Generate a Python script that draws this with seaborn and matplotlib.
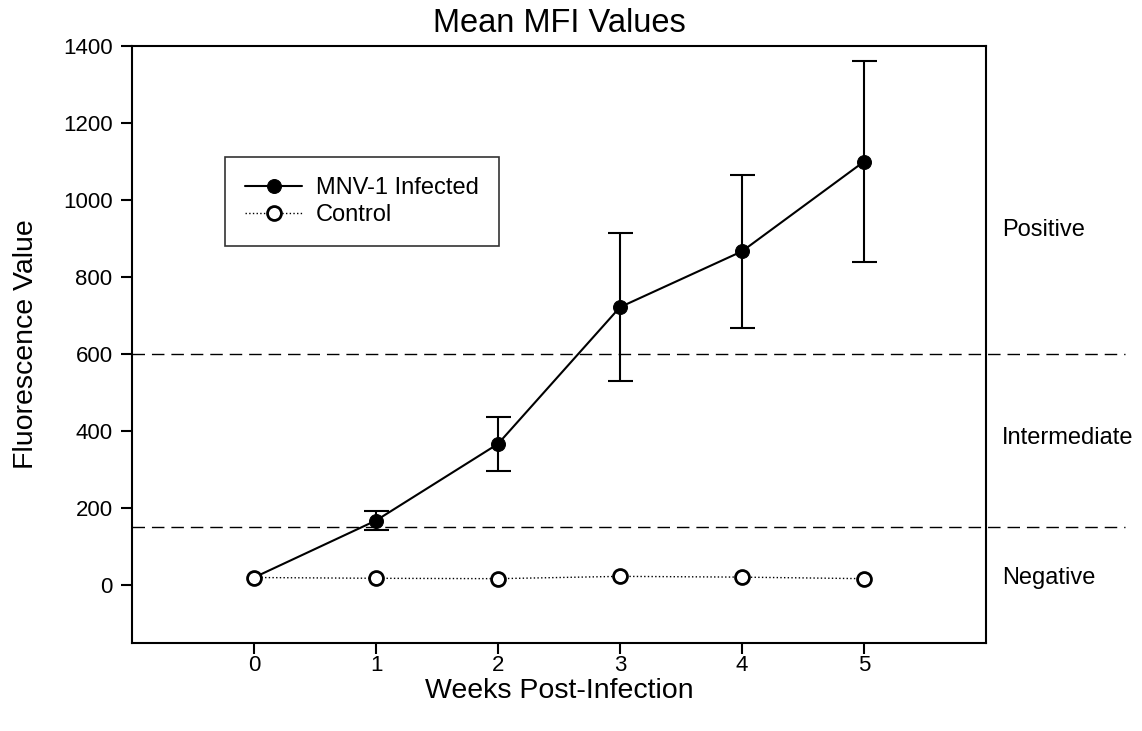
import numpy as np
import pandas as pd
import matplotlib
matplotlib.use('Agg')
import matplotlib.pyplot as plt
import seaborn as sns

# datos
semanas = [0, 1, 2, 3, 4, 5]
infectado = [20, 168, 367, 722, 867, 1100]
infectado_err = [0, 25, 70, 192, 198, 260]
control = [20, 18, 17, 23, 21, 17]
umbrales = [150, 600]
zonas = ['Positive', 'Intermediate', 'Negative']
zonas_y = [922, 382, 18]

sns.set_style("ticks", {'xtick.color': 'black', 'ytick.color': 'black',
                        'axes.edgecolor': 'black', 'text.color': 'black',
                        'axes.labelcolor': 'black'})
plt.rcParams['font.family'] = ['Liberation Sans', 'DejaVu Sans']

df = pd.DataFrame({'Semana': semanas, 'Infectado': infectado, 'Control': control})

fig = plt.figure(figsize=(11.42, 7.31), dpi=100)
ax = fig.add_axes([0.1156, 0.1204, 0.7478, 0.8166])

for y in umbrales:
    ax.plot([-1, 7.14], [y, y], color='black', lw=1, ls=(0, (9, 5)), clip_on=False, zorder=1)

# la semana 0 no tiene barra de error visible
ax.errorbar(semanas[1:], infectado[1:], yerr=infectado_err[1:], fmt='none', ecolor='black',
            elinewidth=1.5, capsize=9, capthick=1.5, zorder=2)
sns.lineplot(data=df, x='Semana', y='Infectado', ax=ax, color='black', lw=1.5,
             marker='o', markersize=10, markerfacecolor='black', markeredgecolor='black',
             label='MNV-1 Infected', zorder=3)
sns.lineplot(data=df, x='Semana', y='Control', ax=ax, color='black', lw=1,
             ls=':', marker='o', markersize=10, markerfacecolor='white',
             markeredgecolor='black', markeredgewidth=2, label='Control', zorder=4)

ax.set_xlim(-1, 6)
ax.set_ylim(-150, 1400)
ax.set_xticks(semanas)
ax.set_yticks(range(0, 1401, 200))
ax.tick_params(axis='both', which='major', direction='out', length=8, width=1.5,
               labelsize=16, color='black', labelcolor='black',
               bottom=True, left=True, top=False, right=False)
ax.tick_params(axis='x', pad=1)
ax.tick_params(axis='y', pad=6)
for s in ax.spines.values():
    s.set_visible(True)
    s.set_color('black')
    s.set_linewidth(1.5)

for txt, y in zip(zonas, zonas_y):
    ax.text(6.13, y, txt, fontsize=17, va='center', ha='left', clip_on=False)

ax.set_title('Mean MFI Values', fontsize=23.5, pad=10)
ax.set_xlabel('Weeks Post-Infection', fontsize=20.5, labelpad=1)
ax.set_ylabel('Fluorescence Value', fontsize=20.5, labelpad=17)

leg = ax.legend(loc='upper left', bbox_to_anchor=(0.109, 0.814), fontsize=17,
                frameon=True, fancybox=False, edgecolor='black', handlelength=2.4,
                borderpad=0.85, labelspacing=0.2, handletextpad=0.6, borderaxespad=0)
leg.get_frame().set_linewidth(1.2)

plt.savefig('out.png', dpi=100)
